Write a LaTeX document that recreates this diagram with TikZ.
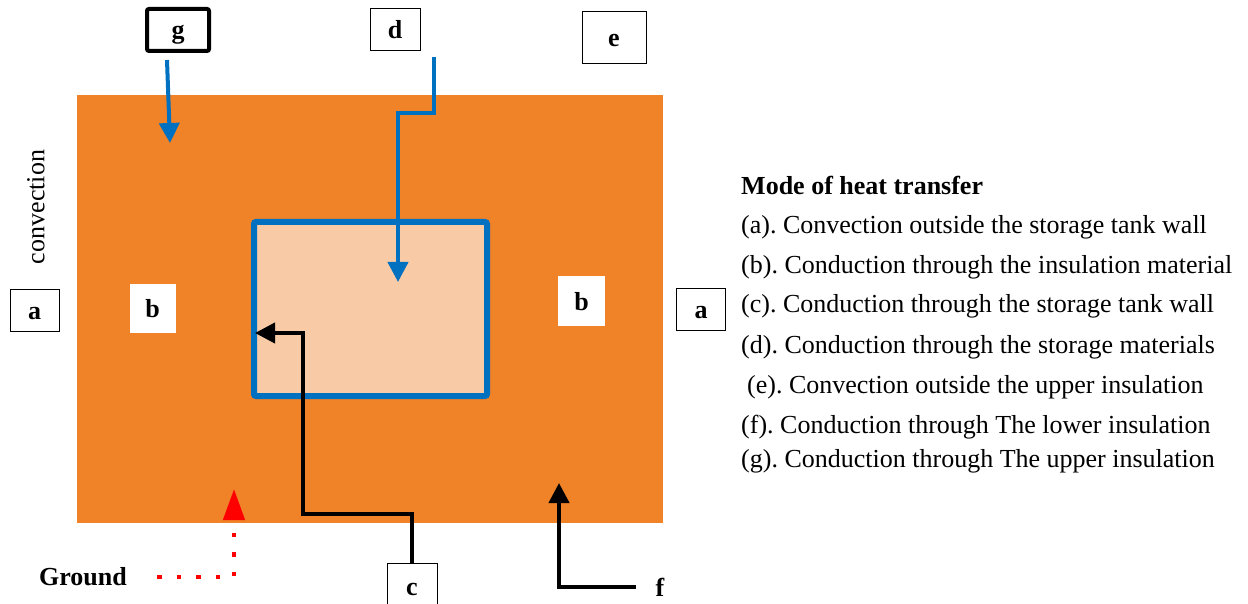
\documentclass[tikz,border=0pt]{standalone}
\usepackage{fontspec}
\setmainfont{Liberation Serif}
\usepackage{xcolor}
\usepackage{tikz}
\usetikzlibrary{positioning, arrows.meta}
\definecolor{tankorange}{HTML}{F08228}
\definecolor{tankpeach}{HTML}{F8CBA6}
\definecolor{wallblue}{HTML}{0070C0}
\definecolor{groundred}{HTML}{FF0000}
\frenchspacing

\tikzset{
  txt/.style={font=\fontsize{26}{30}\selectfont, inner sep=0pt},
  letterbox/.style={txt, font=\fontsize{26}{30}\selectfont\bfseries, draw=black,
    line width=1pt, fill=white, text height=18pt, text depth=0pt},
  whitebox/.style={txt, font=\fontsize{26}{30}\selectfont\bfseries, fill=white,
    text height=18pt, text depth=0pt},
  bluearrow/.style={draw=wallblue, line width=4pt, -{Triangle[length=20pt,width=20pt]}},
  blackarrow/.style={draw=black, line width=4pt, -{Triangle[length=20pt,width=20pt]}},
}

\begin{document}
\begin{tikzpicture}[x=1pt, y=-1pt]
  \useasboundingbox (0,0) rectangle (1248,604);

  % insulation and tank
  \fill[tankorange] (77,95) rectangle (663,523);
  \draw[wallblue, fill=tankpeach, line width=6pt, rounded corners=2pt] (254,222) rectangle (487,396);

  % labels
  \node[letterbox, line width=4pt, rounded corners=2pt, minimum width=62, minimum height=42] (g) at (178,30) {g};
  \node[letterbox, minimum width=50, minimum height=42] (d) at (395,30) {d};
  \node[letterbox, minimum width=64, minimum height=52] (e) at (614,38) {e};
  \node[letterbox, minimum width=49, minimum height=42] (aleft) at (34.6,310) {a};
  \node[whitebox, minimum width=46, minimum height=49] (bleft) at (152.5,308.7) {b};
  \node[whitebox, minimum width=47, minimum height=50] (bright) at (581.5,301) {b};
  \node[letterbox, minimum width=49, minimum height=42] (aright) at (701,309) {a};
  \node[letterbox, minimum width=50, minimum height=46] (c) at (412,586) {c};
  \node[txt, rotate=90] (conv) at (36,207) {convection};
  \node[txt, font=\fontsize{26}{30}\selectfont\bfseries] (ground) at (83,577) {Ground};
  \node[txt, font=\fontsize{26}{30}\selectfont\bfseries] (f) at (660,587) {f};

  % arrow ends
  \coordinate (gstart) at (167,60);
  \coordinate (gend) at (170,143);
  \coordinate (dstart) at (434,57);
  \coordinate (dend) at (398,282);
  \coordinate (cend) at (255,333);
  \coordinate (fstart) at (636,587);
  \coordinate (fend) at (559,483);
  \coordinate (grstart) at (157,577);
  \coordinate (grend) at (234,489);

  \draw[bluearrow] (gstart) -- (gend);
  \draw[bluearrow] (dstart) -- ++(0,56) -| (dend);
  \draw[blackarrow] (c.north) |- (303,514) |- (cend);
  \draw[blackarrow] (fstart) -| (fend);
  \draw[groundred, line width=4.5pt, dash pattern=on 4.5pt off 15pt,
        -{Triangle[length=31pt,width=21pt]}] (grstart) -| (grend);

  % legend
  \node[txt, font=\fontsize{26}{30}\selectfont\bfseries, anchor=base west] (modes) at (741,195) {Mode of heat transfer};
  \foreach \x/\y/\t [count=\i] in {
      741/234/{(a). Convection outside the storage tank wall},
      741/273/{(b). Conduction through the insulation material},
      741/312/{(c). Conduction through the storage tank wall},
      741/353/{(d). Conduction through the storage materials},
      747/393/{(e). Convection outside the upper insulation},
      741/433/{(f). Conduction through The lower insulation},
      741/467/{(g). Conduction through The upper insulation}}
    \node[txt, anchor=base west] (mode\i) at (\x,\y) {\t};
\end{tikzpicture}
\end{document}
